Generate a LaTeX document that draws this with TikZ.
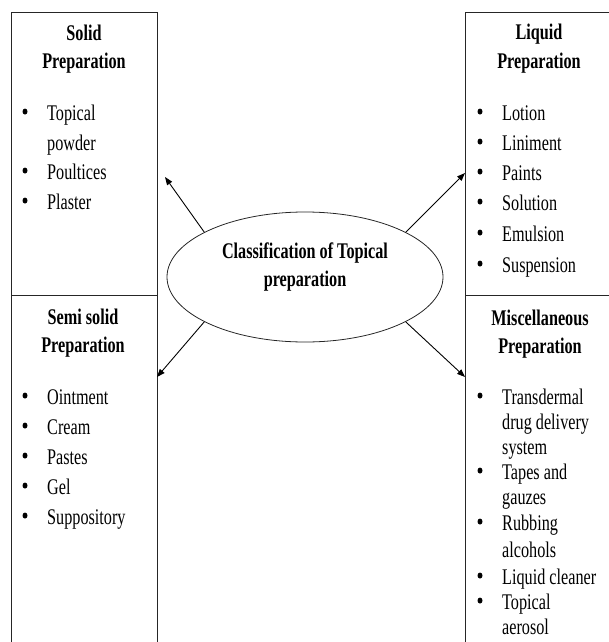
\documentclass[tikz,border=0pt]{standalone}
\usepackage{fontspec}
\setmainfont{Liberation Serif}
\usetikzlibrary{arrows.meta,shapes.geometric}

\begin{document}
\begin{tikzpicture}[x=1pt,y=-1pt,
  box/.style={draw=black!85,line width=0.8pt,inner sep=0pt},
  txt/.style={font=\fontsize{16.2}{19}\selectfont,yscale=1.38,inner sep=0pt},
  ttl/.style={txt,font=\fontsize{16.2}{19}\selectfont\bfseries,anchor=base},
  itm/.style={txt,anchor=base west},
  blt/.style={circle,fill=black,inner sep=0pt,minimum size=5pt,yscale=1.2,yshift=7pt},
  arr/.style={-{Triangle[length=8pt,width=6pt]},line width=0.9pt}]
  \useasboundingbox (0,0) rectangle (609,642);
  % Boxes
  \node[box,minimum width=146pt,minimum height=283pt] (solid) at (84,153.5) {};
  \node[box,minimum width=146pt,minimum height=365pt] (semi) at (84,477.5) {};
  \node[box,minimum width=155pt,minimum height=283pt] (liquid) at (542.5,153.5) {};
  \node[box,minimum width=155pt,minimum height=365pt] (misc) at (542.5,477.5) {};
  % Centre
  \node[box,ellipse,minimum width=276pt,minimum height=130pt] (cls) at (305,277) {};
  \node[ttl] (cls1) at (305,258) {Classification of Topical};
  \node[ttl] (cls2) at (305,286) {preparation};
  % Arrows
  \coordinate (solidin) at (165,177);
  \coordinate (liquidin) at (465,173);
  \coordinate (semiin) at (157,377);
  \coordinate (miscin) at (465,377);
  \draw[arr] (cls.156) -- (solidin);
  \draw[arr] (cls.24) -- (liquidin);
  \draw[arr] (cls.204) -- (semiin);
  \draw[arr] (cls.336) -- (miscin);
  % Solid
  \node[ttl] (st1) at (84,41) {Solid};
  \node[ttl] (st2) at (84,69) {Preparation};
  \foreach \y/\t/\b in {120/Topical/1,150/powder/0,179/Poultices/1,209/Plaster/1} {
    \node[itm] (s\y) at (47,\y) {\t};
    \ifnum\b=1 \node[blt] (sb\y) at (25,\y) {}; \fi
  }
  % Liquid
  \node[ttl] (lt1) at (539,40) {Liquid};
  \node[ttl] (lt2) at (539,68) {Preparation};
  \foreach \y/\t in {120/Lotion,150/Liniment,180/Paints,210/Solution,241/Emulsion,272/Suspension} {
    \node[itm] (l\y) at (502,\y) {\t};
    \node[blt] (lb\y) at (480,\y) {};
  }
  % Semi solid
  \node[ttl] (mt1) at (83,324) {Semi solid};
  \node[ttl] (mt2) at (83,352) {Preparation};
  \foreach \y/\t in {404/Ointment,434/Cream,464/Pastes,494/Gel,524/Suppository} {
    \node[itm] (m\y) at (47,\y) {\t};
    \node[blt] (mb\y) at (25,\y) {};
  }
  % Miscellaneous
  \node[ttl] (xt1) at (540,325) {Miscellaneous};
  \node[ttl] (xt2) at (540,353) {Preparation};
  \foreach \y/\t/\b in {404/Transdermal/1,429/drug delivery/0,454/system/0,479/Tapes and/1,
    504/gauzes/0,530/Rubbing/1,557/alcohols/0,584/Liquid cleaner/1,609/Topical/1,634/aerosol/0} {
    \node[itm] (x\y) at (502,\y) {\t};
    \ifnum\b=1 \node[blt] (xb\y) at (480,\y) {}; \fi
  }
\end{tikzpicture}
\end{document}
